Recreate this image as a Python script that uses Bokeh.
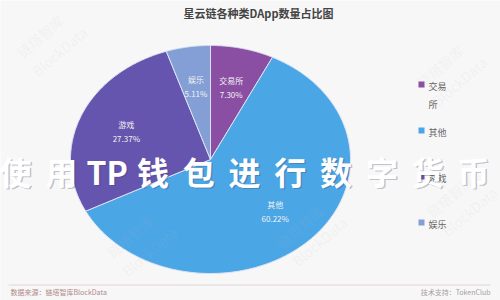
import numpy as np
from bokeh.plotting import figure
from bokeh.models import Label, Range1d, BoxAnnotation, ColumnDataSource
from bokeh.core.properties import value
from bokeh.embed import file_html
from bokeh.resources import INLINE

# ---- data ----
title = "星云链各种类DApp数量占比图"
categories = ["交易所", "其他", "游戏", "娱乐"]
legend_texts = ["交易\n所", "其他", "游戏", "娱乐"]
shares = [7.30, 60.22, 27.37, 5.11]
colors = ["#8a4fa3", "#4ba6e6", "#6655ae", "#839fd5"]
banner = ["使", "用", "TP", "钱", "包", "进", "行", "数", "字", "货", "币"]
source_note = "数据来源：链塔智库BlockData"
support_note = "技术支持：TokenClub"

FONT = "Noto Sans CJK SC"
W, H = 500, 300
# pie centre and radii in pixels (pie is drawn slightly stretched horizontally)
cx_px, cy_px, rx_px, ry_px = 210, 159, 140, 114

p = figure(width=W, height=H, output_backend="svg", toolbar_location=None,
           x_range=Range1d(-cx_px / rx_px, (W - cx_px) / rx_px),
           y_range=Range1d(-(H - cy_px) / ry_px, cy_px / ry_px),
           x_axis_location=None, y_axis_location=None,
           min_border=0, outline_line_color=None,
           background_fill_color="#f7f7f7", border_fill_color="#f7f7f7")
p.grid.visible = False

# faint logo watermarks
for (wx, wy) in [(40, 220), (440, 190), (450, 60), (130, 20), (300, 30)]:
    p.add_layout(Label(x=wx, y=wy, x_units="screen", y_units="screen",
                       text="链塔智库\nBlockData", angle=0.7,
                       text_font=FONT, text_font_size="14px",
                       text_color="#b8b8b8", text_alpha=0.12))

# ---- pie slices, clockwise from 12 o'clock ----
total = sum(shares)
edges = np.concatenate([[0.0], np.cumsum(shares)]) / total * 2 * np.pi
xs, ys = [], []
for a0, a1 in zip(edges[:-1], edges[1:]):
    t = np.linspace(a0, a1, 160)
    xs.append(np.concatenate([[0.0], np.sin(t), [0.0]]))
    ys.append(np.concatenate([[0.0], np.cos(t), [0.0]]))
p.patches(xs, ys, fill_color=colors, line_color="#dce4f4", line_width=1)

# slice labels
mid = (edges[:-1] + edges[1:]) / 2
f = 0.65
lab_src = ColumnDataSource(dict(
    x=f * np.sin(mid), y=f * np.cos(mid),
    text=[f"{c}\n{s:.2f}%" for c, s in zip(categories, shares)]))
p.text("x", "y", text="text", source=lab_src, text_align="center",
       text_baseline="middle", text_font=value(FONT), text_font_size="8px",
       text_color="#f2f2f2", text_line_height=1.3)

# ---- title ----
p.add_layout(Label(x=258, y=H - 12, x_units="screen", y_units="screen",
                   text=title, text_align="center", text_baseline="middle",
                   text_font=FONT, text_font_size="11px",
                   text_font_style="bold", text_color="#444444"))

# ---- legend ----
for i, (txt, col) in enumerate(zip(legend_texts, colors)):
    ly = H - (84 + 46 * i)
    p.add_layout(BoxAnnotation(left=418, right=424, bottom=ly - 3, top=ly + 3,
                               left_units="screen", right_units="screen",
                               bottom_units="screen", top_units="screen",
                               fill_color=col, fill_alpha=1, line_color=None))
    p.add_layout(Label(x=428, y=ly + 5, x_units="screen", y_units="screen",
                       text=txt, text_align="left", text_baseline="top",
                       text_font=FONT, text_font_size="9px",
                       text_color="#666666", text_line_height=1.4))

# ---- footer ----
p.add_layout(BoxAnnotation(left=8, right=490, bottom=H - 285, top=H - 284,
                           left_units="screen", right_units="screen",
                           bottom_units="screen", top_units="screen",
                           fill_color="#e3d6d6", fill_alpha=1, line_color=None))
p.add_layout(Label(x=10, y=H - 291, x_units="screen", y_units="screen",
                   text=source_note, text_align="left", text_baseline="middle",
                   text_font=FONT, text_font_size="7px",
                   text_color="#b08a8a"))
p.add_layout(Label(x=490, y=H - 291, x_units="screen", y_units="screen",
                   text=support_note, text_align="right", text_baseline="middle",
                   text_font=FONT, text_font_size="7px",
                   text_color="#a8a0a0"))

# ---- overlay banner ----
for i, ch in enumerate(banner):
    bx = 15 + 45.8 * i
    by = H - 170
    p.add_layout(Label(x=bx + 1.5, y=by - 1.5, x_units="screen", y_units="screen",
                       text=ch, text_align="center", text_baseline="middle",
                       text_font=FONT, text_font_size="32px",
                       text_font_style="bold", text_color="#3a3a5a",
                       text_alpha=0.3))
    p.add_layout(Label(x=bx, y=by, x_units="screen", y_units="screen",
                       text=ch, text_align="center", text_baseline="middle",
                       text_font=FONT, text_font_size="32px",
                       text_font_style="bold", text_color="#ffffff"))

open("out.html", "w").write(file_html(p, INLINE))
